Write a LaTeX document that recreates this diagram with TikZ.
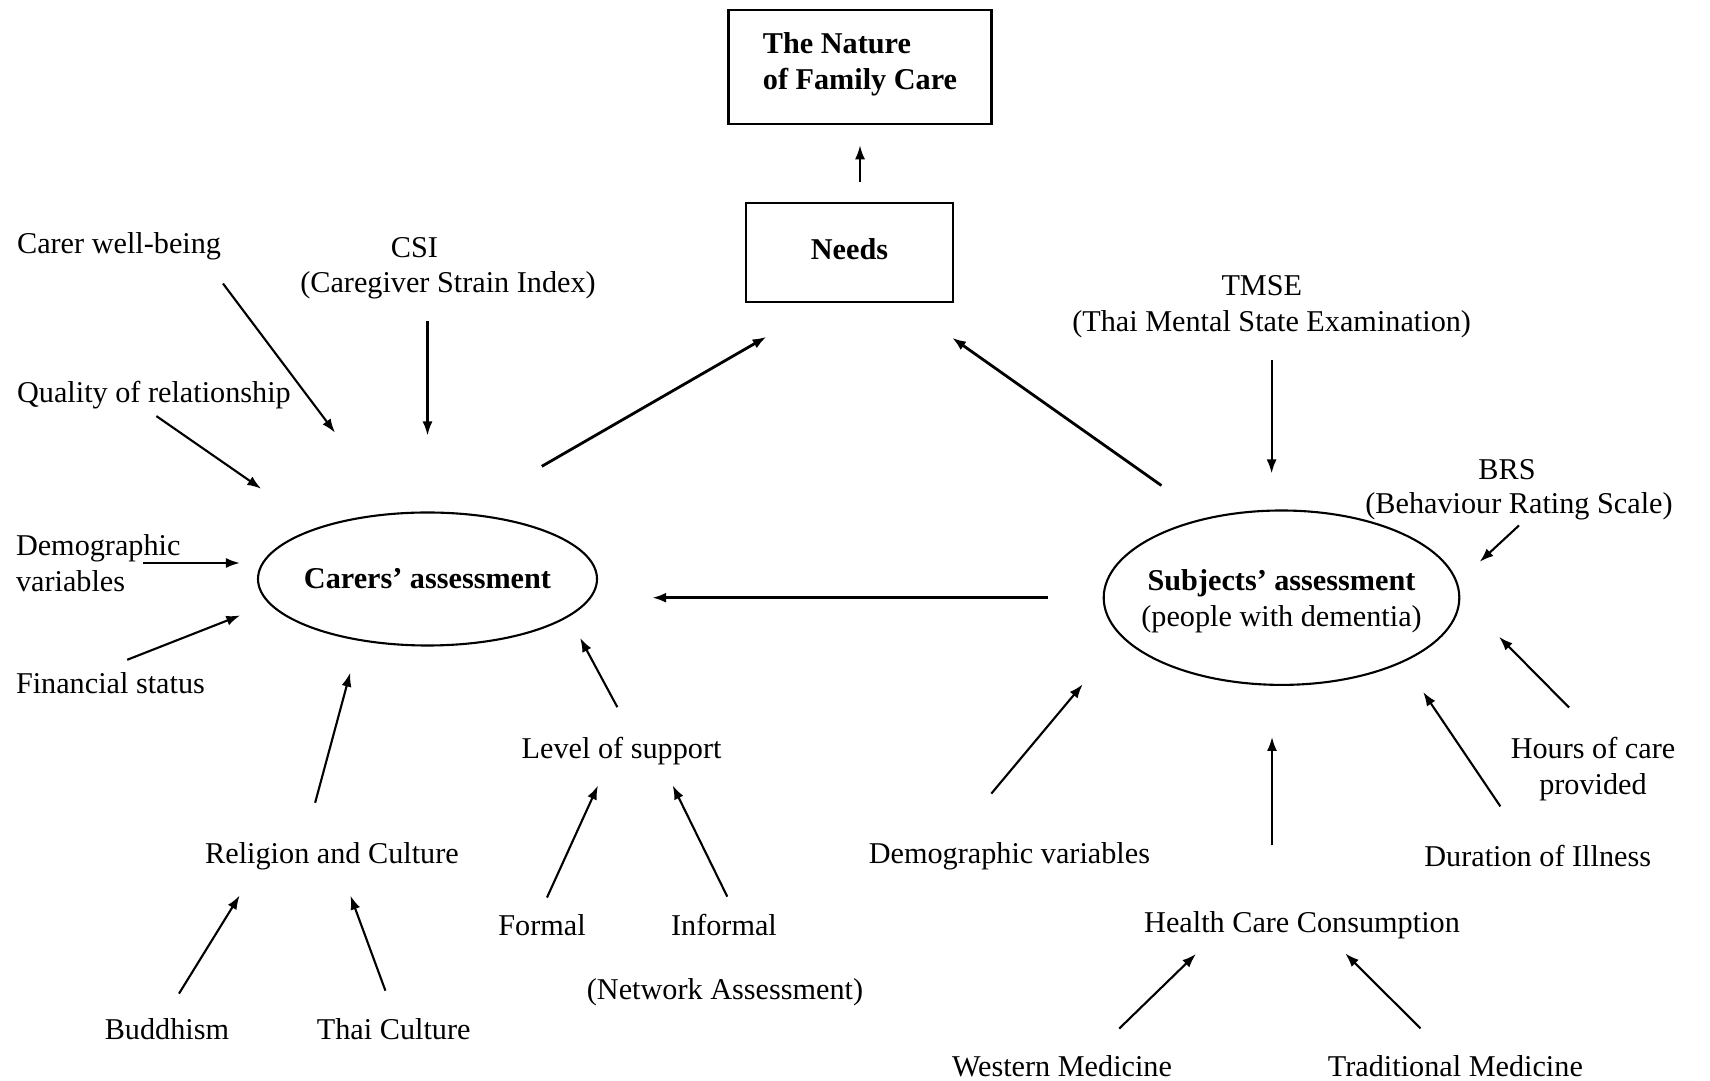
\documentclass[tikz,border=0pt]{standalone}
\usepackage{fontspec}
\setmainfont{Liberation Serif}
\usetikzlibrary{arrows.meta,shapes.geometric}

\begin{document}
\begin{tikzpicture}[>={Latex[length=1.4mm,width=1.0mm]},
  every node/.style={font=\fontsize{8.6}{10.3}\selectfont,inner sep=0.5mm},
  bold/.style={font=\fontsize{8.6}{10.3}\selectfont\bfseries},
  box/.style={draw,line width=0.6pt,bold},
  assess/.style={draw,ellipse,line width=0.6pt,inner sep=0pt},
  link/.style={->,line width=0.6pt},
  main/.style={->,line width=0.8pt}]
\useasboundingbox (0,0) rectangle (17.1,-10.81);
% --- top boxes ---
\node[box,minimum width=2.63cm,minimum height=1.145cm,align=left,text depth=0.12cm] (nature)
   at (8.60,-0.67) {The Nature\\of Family Care};
\node[box,minimum width=2.07cm,minimum height=0.99cm,text depth=0.06cm] (needs)
   at (8.495,-2.525) {Needs};
\draw[link,shorten <=0.2cm,shorten >=0.2cm] (nature.south |- needs.north) -- (nature.south);

% --- the two assessments ---
\node[assess,minimum width=3.39cm,minimum height=1.33cm,
  label={[bold]center:Carers' assessment}] (carers) at (4.275,-5.79) {};
\node[assess,minimum width=3.556cm,minimum height=1.744cm,
  label={[align=center,yshift=-0.035cm]center:{\bfseries Subjects' assessment}\\(people with dementia)}]
  (subjects) at (12.815,-5.977) {};
\draw[main,shorten <=0.93cm,shorten >=0.675cm] (carers.63) -- ([xshift=-0.245cm]needs.south);
\draw[main,shorten <=0.555cm,shorten >=0.60cm] (subjects.133) -- ([xshift=0.535cm]needs.south);
\draw[main,shorten <=0.55cm,shorten >=0.54cm] (subjects.west) -- (subjects.west -| carers.east);

% --- carers side ---
\node[anchor=west] (wellbeing) at (0.114,-2.465) {Carer well-being};
\node (csi) at (4.144,-2.476) {CSI};
\node (csiname) at (4.48,-2.857) {(Caregiver Strain Index)};
\node[anchor=west] (quality) at (0.114,-3.948) {Quality of relationship};
\node[anchor=west,align=left] (demog) at (0.103,-5.63) {Demographic\\variables};
\node[anchor=west] (financial) at (0.103,-6.827) {Financial status};
\node (religion) at (3.32,-8.56) {Religion and Culture};
\node (buddhism) at (1.669,-10.295) {Buddhism};
\node (thai) at (3.937,-10.295) {Thai Culture};
\node (level) at (6.216,-7.514) {Level of support};
\node (formal) at (5.42,-9.248) {Formal};
\node (informal) at (7.24,-9.248) {Informal};
\node (network) at (7.25,-9.925) {(Network Assessment)};

\draw[link,shorten <=0.22cm,shorten >=1.0cm] ([xshift=-0.17cm]wellbeing.south east) -- (carers.116);
\draw[link,shorten <=0.16cm,shorten >=0.76cm] (csiname.south -| carers.north) -- (carers.north);
\draw[link,shorten <=0.03cm,shorten >=0.68cm] (quality.south) -- (carers.155);
\draw[link,shorten >=0.17cm] ([xshift=-0.43cm]demog.east) -- (carers.west |- demog.east);
\draw[link,shorten <=0.18cm,shorten >=0.31cm] (financial.north) -- (carers.189);
\draw[link,shorten <=0.35cm,shorten >=0.33cm] ([xshift=-0.26cm]religion.north) -- (carers.222);
\draw[link,shorten <=0.23cm,shorten >=0.235cm] (buddhism.north) -- ([xshift=-0.8cm]religion.south);
\draw[link,shorten <=0.24cm,shorten >=0.215cm] (thai.north) -- ([xshift=0.11cm]religion.south);
\draw[link,shorten <=0.28cm,shorten >=0.24cm] ([xshift=0.09cm]level.north) -- (carers.345);
\draw[link,shorten <=0.12cm,shorten >=0.16cm] (formal.north) -- ([xshift=-0.17cm]level.south);
\draw[link,shorten <=0.13cm,shorten >=0.16cm] ([xshift=0.09cm]informal.north) -- ([xshift=0.44cm]level.south);

% --- subjects side ---
\node (tmse) at (12.618,-2.857) {TMSE};
\node (tmsename) at (12.716,-3.239) {(Thai Mental State Examination)};
\node (brs) at (15.07,-4.70) {BRS};
\node (brsname) at (15.19,-5.06) {(Behaviour Rating Scale)};
\node[align=center] (hours) at (15.93,-7.694) {Hours of care\\provided};
\node (duration) at (15.377,-8.56) {Duration of Illness};
\node (demogr) at (10.094,-8.56) {Demographic variables};
\node (health) at (13.02,-9.248) {Health Care Consumption};
\node (western) at (10.62,-10.666) {Western Medicine};
\node (traditional) at (14.554,-10.666) {Traditional Medicine};

\draw[link,shorten <=0.17cm,shorten >=0.36cm] (tmsename.south) -- (tmsename.south |- subjects.north);
\draw[link,shorten >=0.30cm] (brsname.south) -- (subjects.5);
\draw[link,shorten <=0.34cm,shorten >=0.55cm] (hours.north) -- (subjects.east);
\draw[link,shorten <=0.40cm,shorten >=0.357cm] ([xshift=-0.15cm]duration.north) -- (subjects.332);
\draw[link,shorten <=0.56cm,shorten >=0.61cm] ([xshift=-0.54cm]demogr.north) -- (subjects.194);
\draw[link,shorten <=0.60cm,shorten >=0.51cm] ([xshift=-0.3cm]health.north)
   -- ([xshift=-0.3cm]health.north |- subjects.south);
\draw[link,shorten <=0.31cm,shorten >=0.14cm] ([xshift=0.35cm]western.north) -- ([xshift=-0.96cm]health.south);
\draw[link,shorten <=0.31cm,shorten >=0.13cm] ([xshift=-0.13cm]traditional.north) -- ([xshift=0.34cm]health.south);
\end{tikzpicture}
\end{document}
